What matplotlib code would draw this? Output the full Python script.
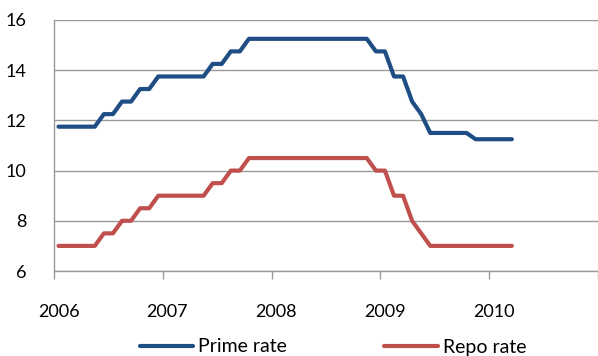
import matplotlib
matplotlib.use("Agg")
import matplotlib.pyplot as plt
import numpy as np

plt.rcParams['font.family'] = ['Lato', 'DejaVu Sans']

# monthly observations, Jan 2006 (0) .. Mar 2010 (50)
months = list(range(51))
prime_rate = [11.75, 11.75, 11.75, 11.75, 11.75, 12.25, 12.25, 12.75, 12.75, 13.25,
              13.25, 13.75, 13.75, 13.75, 13.75, 13.75, 13.75, 14.25, 14.25, 14.75,
              14.75, 15.25, 15.25, 15.25, 15.25, 15.25, 15.25, 15.25, 15.25, 15.25,
              15.25, 15.25, 15.25, 15.25, 15.25, 14.75, 14.75, 13.75, 13.75, 12.75,
              12.25, 11.5, 11.5, 11.5, 11.5, 11.5, 11.25, 11.25, 11.25, 11.25,
              11.25]
repo_rate = [7.0, 7.0, 7.0, 7.0, 7.0, 7.5, 7.5, 8.0, 8.0, 8.5,
             8.5, 9.0, 9.0, 9.0, 9.0, 9.0, 9.0, 9.5, 9.5, 10.0,
             10.0, 10.5, 10.5, 10.5, 10.5, 10.5, 10.5, 10.5, 10.5, 10.5,
             10.5, 10.5, 10.5, 10.5, 10.5, 10.0, 10.0, 9.0, 9.0, 8.0,
             7.5, 7.0, 7.0, 7.0, 7.0, 7.0, 7.0, 7.0, 7.0, 7.0,
             7.0]
years = ['2006', '2007', '2008', '2009', '2010']

fig = plt.figure(figsize=(5.98, 3.56), dpi=100)
ax = fig.add_axes([54 / 598, 1 - 271 / 356, 1 - 54 / 598, 251 / 356])

x = np.array(months) + 0.5
l1, = ax.plot(x, prime_rate, color='#1F4E85', lw=3.0, solid_joinstyle='round',
              solid_capstyle='round', label='Prime rate')
l2, = ax.plot(x, repo_rate, color='#C0504D', lw=3.0, solid_joinstyle='round',
              solid_capstyle='round', label='Repo rate')

ax.set_xlim(0, 60)
ax.set_ylim(6, 16)
ax.set_yticks([6, 8, 10, 12, 14, 16])
ax.grid(axis='y', color='#9a9a9a', lw=1.0)
ax.set_axisbelow(True)

# year labels sit on January, tick marks on the year boundaries
ax.set_xticks([12 * i + 0.5 for i in range(5)])
ax.set_xticklabels(years)
ax.set_xticks([12 * i for i in range(6)], minor=True)
ax.tick_params(axis='x', which='major', length=0, pad=24, labelsize=13)
ax.tick_params(axis='x', which='minor', length=6, color='#9a9a9a', width=1)
ax.tick_params(axis='y', length=0, pad=20, labelsize=13)

for s in ['top', 'right']:
    ax.spines[s].set_visible(False)
for s in ['left', 'bottom']:
    ax.spines[s].set_color('#9a9a9a')
    ax.spines[s].set_linewidth(1.0)

fig.legend(handles=[l1, l2], loc='center', bbox_to_anchor=(333 / 598, 1 - 347 / 356),
           ncol=2, frameon=False, fontsize=14, handlelength=2.75, handletextpad=0.26,
           columnspacing=5.0, borderpad=0)

fig.savefig('out.png', dpi=100)
